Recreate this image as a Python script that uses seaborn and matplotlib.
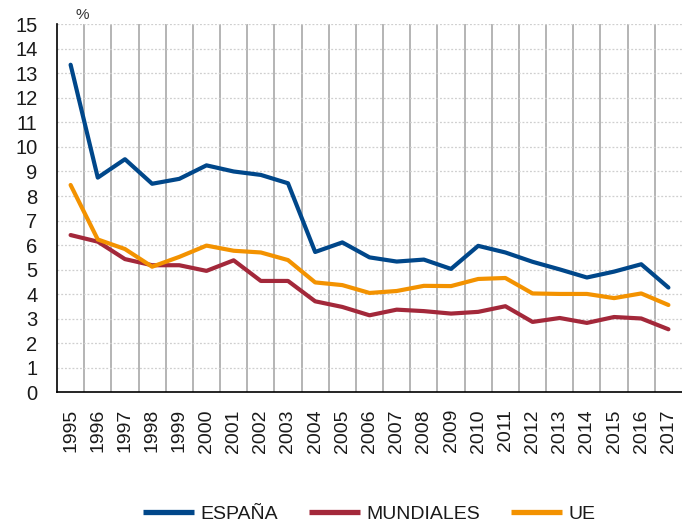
import matplotlib
matplotlib.use("Agg")
import matplotlib.pyplot as plt
import seaborn as sns
import pandas as pd
import numpy as np

years = [str(y) for y in range(1995, 2018)]
espana = [13.35, 8.75, 9.5, 8.5, 8.7, 9.25, 9.0, 8.86, 8.52, 5.72, 6.11, 5.5, 5.33, 5.41,
          5.03, 5.97, 5.7, 5.32, 5.01, 4.68, 4.92, 5.22, 4.27]
mundiales = [6.41, 6.14, 5.43, 5.18, 5.18, 4.95, 5.38, 4.54, 4.54, 3.71, 3.48, 3.14, 3.37, 3.31,
             3.21, 3.28, 3.51, 2.87, 3.03, 2.83, 3.07, 3.01, 2.57]
ue = [8.45, 6.23, 5.84, 5.12, 5.52, 5.98, 5.77, 5.70, 5.39, 4.48, 4.37, 4.05, 4.13, 4.34,
      4.33, 4.62, 4.66, 4.03, 4.01, 4.01, 3.84, 4.03, 3.56]
series_names = ["ESPAÑA", "MUNDIALES", "UE"]
colors = ["#00478a", "#a3283a", "#f39200"]

df = pd.DataFrame({
    "x": list(range(len(years))) * 3,
    "value": espana + mundiales + ue,
    "serie": [s for s in series_names for _ in years],
})

sns.set_style("white")
plt.rcParams["font.family"] = ["Liberation Sans", "DejaVu Sans"]

fig = plt.figure(figsize=(6.82, 5.27), dpi=100)
ax = fig.add_axes([0.0836, 0.2555, 0.9164, 0.6985])

sns.lineplot(data=df, x="x", y="value", hue="serie", hue_order=series_names,
             palette=colors, linewidth=3.0, ax=ax, legend=True)

n = len(years)
ax.set_xlim(-0.5, n - 0.5)
ax.set_ylim(0, 15)

# vertical grid at cell boundaries
for b in np.arange(0.5, n - 0.5, 1.0):
    ax.axvline(b, color="#a8a8a8", linewidth=1.2, zorder=0)
for yv in range(1, 16):
    ax.axhline(yv, color="#cfcfcf", linewidth=0.9, linestyle=(0, (1.5, 1.5)), zorder=0)

ax.set_xticks(np.arange(-0.5, n, 1.0))
ax.set_xticklabels([])
ax.set_xticks(np.arange(n), minor=True)
ax.set_xticklabels(years, minor=True, rotation=90, fontsize=14, color="#1a1a1a")
ax.tick_params(axis="x", which="major", direction="in", length=6, width=0.9, color="black")
ax.tick_params(axis="x", which="minor", length=0, pad=12)

ax.set_yticks(range(0, 16))
ax.set_yticklabels([str(v) for v in range(0, 16)], fontsize=14.5, color="#1a1a1a")
ax.tick_params(axis="y", direction="in", length=6, width=0.9, color="black", pad=14)

for s in ["top", "right"]:
    ax.spines[s].set_visible(False)
for s in ["left", "bottom"]:
    ax.spines[s].set_color("black")
    ax.spines[s].set_linewidth(1.2)

ax.set_xlabel("")
ax.set_ylabel("")
fig.text(82 / 682, 1 - 15 / 527, "%", fontsize=11, ha="center", va="center", color="#333333")

handles, labels = ax.get_legend_handles_labels()
ax.legend_.remove()
leg = fig.legend(handles, labels, loc="center", bbox_to_anchor=(0.541, 0.025), ncol=3,
                 frameon=False, fontsize=14, handlelength=2.65, handletextpad=0.3,
                 columnspacing=1.6)
for h in leg.legend_handles:
    h.set_linewidth(3.8)
    h.set_solid_capstyle("butt")
for t in leg.get_texts():
    t.set_color("#1a1a1a")

fig.savefig("out.png", dpi=100)
